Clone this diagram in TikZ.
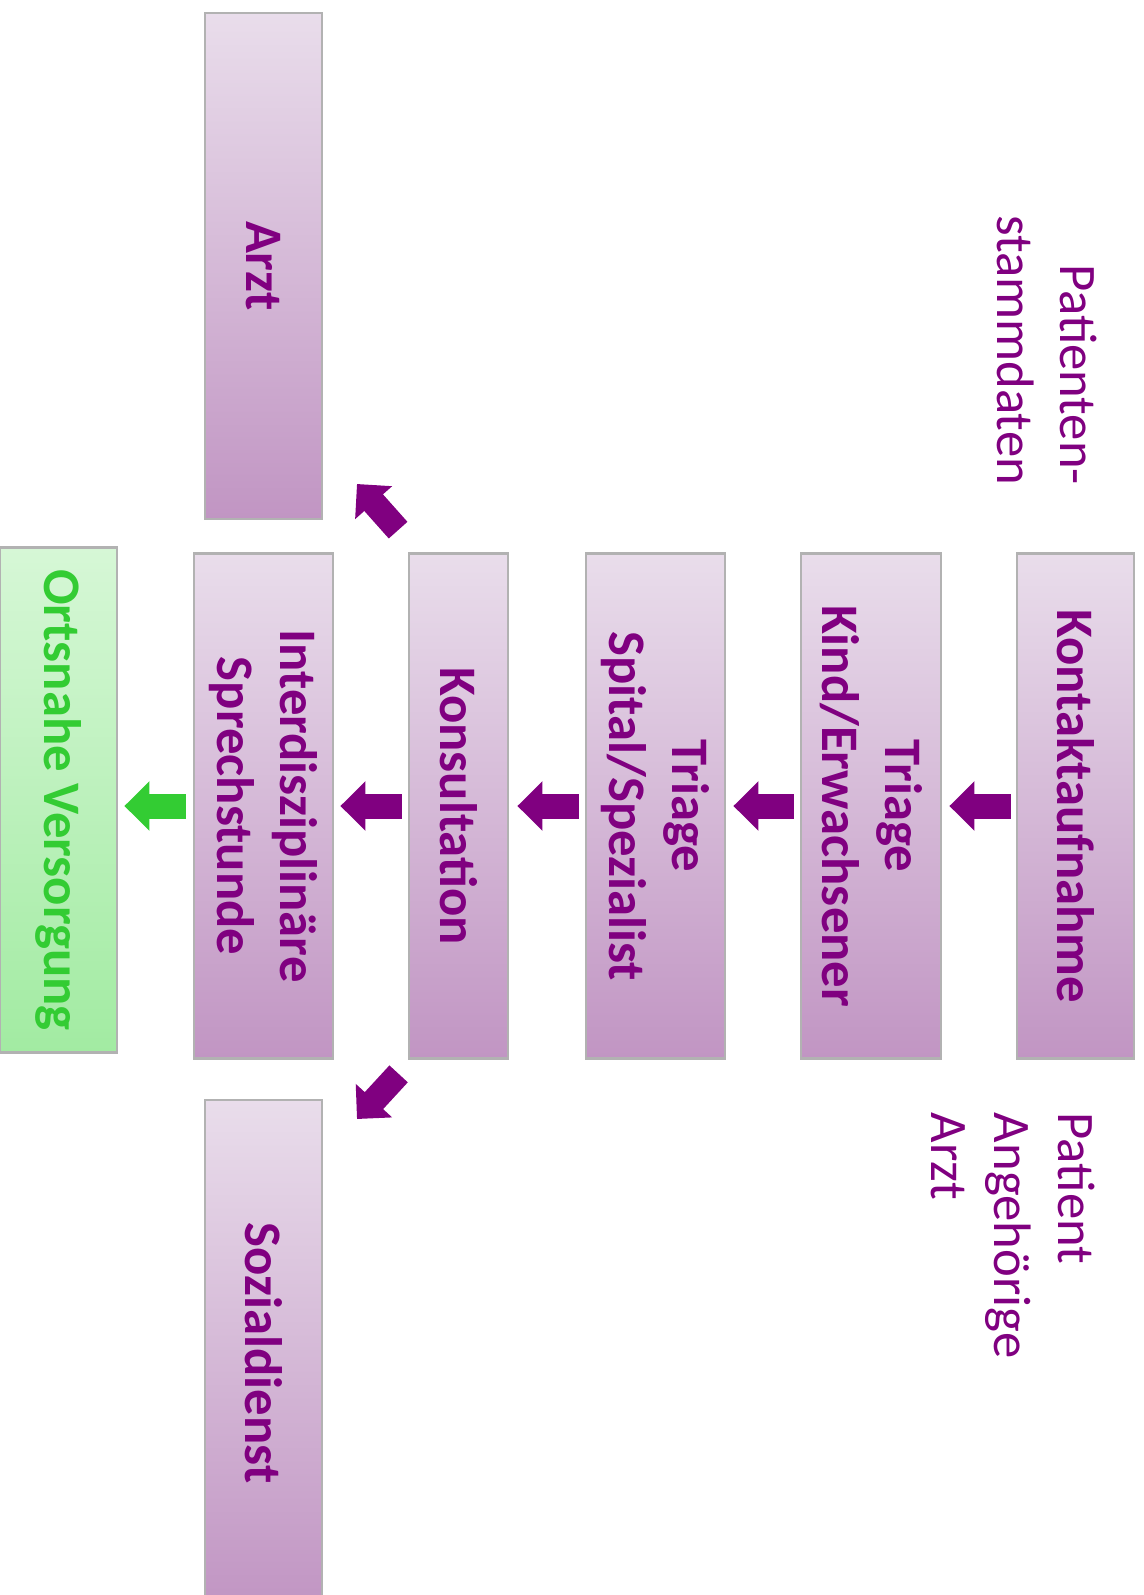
\documentclass[tikz,border=0pt]{standalone}
\usepackage{fontspec}
\setmainfont{Carlito}
\usetikzlibrary{arrows.meta,calc}
\definecolor{lila}{HTML}{800080}
\definecolor{lilahell}{HTML}{E9DDEB}
\definecolor{liladunkel}{HTML}{C195C3}
\definecolor{gruen}{HTML}{33CC33}
\definecolor{gruenhell}{HTML}{D6F7D6}
\definecolor{gruendunkel}{HTML}{A2EBA2}
\begin{document}
\begin{tikzpicture}[x=0.02cm, y=-0.02cm,
    box/.style={rotate=-90, draw=black!30, line width=1.6pt, top color=lilahell, bottom color=liladunkel,
      text=lila, font=\bfseries\fontsize{30}{36}\selectfont, align=center, inner sep=0pt, minimum width=10.1cm},
    notiz/.style={rotate=-90, text=lila, font=\fontsize{30}{36}\selectfont, inner sep=0pt},
    pfeil/.style={line width=0.5cm, lila, -{Triangle[length=0.5cm, width=0.96cm]}}]
    \useasboundingbox (0,0) rectangle (1143,1595);
    % Kette der Stationen
    \node[box, minimum height=2.34cm] (kontakt) at (1075.5,806) {Kontaktaufnahme};
    \node[box, minimum height=2.8cm] (kind) at (871,806) {Triage\\Kind/Erwachsener};
    \node[box, minimum height=2.78cm] (spital) at (655.5,806) {Triage\\Spital/Spezialist};
    \node[box, minimum height=1.98cm] (konsult) at (458.5,806) {Konsultation};
    \node[box, minimum height=2.78cm] (interdisz) at (263.5,806) {Interdisziplinäre\\Sprechstunde};
    \node[box, minimum height=2.34cm, top color=gruenhell, bottom color=gruendunkel, text=gruen] (ortsnahe) at (58.5,800) {Ortsnahe Versorgung};
    \node[box, minimum height=2.34cm, minimum width=10.12cm] (arzt) at (263.5,266) {Arzt};
    \node[box, minimum height=2.34cm, minimum width=10.12cm] (sozial) at (263.5,1353) {Sozialdienst};
    % Notizen
    \node[notiz, align=right] (stammdaten) at (1047,350) {Patienten-\\stammdaten};
    \node[notiz, align=left] (wer) at (1013,1235.5) {Patient\\Angehörige\\Arzt};
    % Pfeile
    \draw[pfeil, shorten <=0.1cm, shorten >=0.14cm] (kontakt.south) -- (kind.north);
    \draw[pfeil, shorten <=0.12cm, shorten >=0.14cm] (kind.south) -- (spital.north);
    \draw[pfeil, shorten <=0.12cm, shorten >=0.16cm] (spital.south) -- (konsult.north);
    \draw[pfeil, shorten <=0.12cm, shorten >=0.12cm] (konsult.south) -- (interdisz.north);
    \draw[pfeil, gruen, shorten <=0.14cm, shorten >=0.12cm] (interdisz.south) -- (interdisz.south -| ortsnahe.north);
    \coordinate (hoch) at (357,484);
    \coordinate (runter) at (357,1119);
    \draw[pfeil] ($(konsult.south west)+(-9.5,-22)$) -- (hoch);
    \draw[pfeil] ($(konsult.south east)+(-9,14)$) -- (runter);
\end{tikzpicture}
\end{document}
